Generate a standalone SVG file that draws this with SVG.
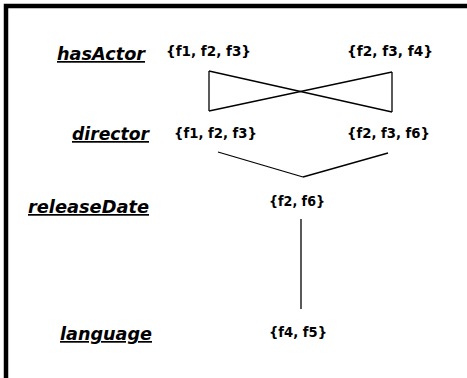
<svg xmlns="http://www.w3.org/2000/svg" width="467" height="378" viewBox="0 0 467 378">
  <style>
    .lvl { font-family: "DejaVu Sans", sans-serif; font-weight: bold; font-style: italic; font-size: 17px; fill: #000; text-decoration: underline; }
    .set { font-family: "DejaVu Sans", sans-serif; font-weight: bold; font-size: 14px; fill: #000; }
    .edge { stroke: #000; stroke-width: 1.3; fill: none; }
  </style>
  <rect width="467" height="378" fill="#fff"/>
  <!-- frame: heavy top and left edge -->
  <polyline points="6,378 6,6 467,6" fill="none" stroke="#000" stroke-width="4.5"/>

  <!-- level labels -->
  <g id="level-hasActor"><text class="lvl" x="57" y="60" textLength="88" lengthAdjust="spacingAndGlyphs">hasActor</text></g>
  <g id="level-director"><text class="lvl" x="72" y="140" textLength="77" lengthAdjust="spacingAndGlyphs">director</text></g>
  <g id="level-releaseDate"><text class="lvl" x="28" y="213" textLength="121" lengthAdjust="spacingAndGlyphs">releaseDate</text></g>
  <g id="level-language"><text class="lvl" x="60" y="340" textLength="92" lengthAdjust="spacingAndGlyphs">language</text></g>

  <!-- feature sets -->
  <g id="ha1"><text class="set" x="166" y="56" textLength="85" lengthAdjust="spacingAndGlyphs">{f1, f2, f3}</text></g>
  <g id="ha2"><text class="set" x="347" y="56" textLength="86" lengthAdjust="spacingAndGlyphs">{f2, f3, f4}</text></g>
  <g id="d1"><text class="set" x="174" y="138" textLength="83" lengthAdjust="spacingAndGlyphs">{f1, f2, f3}</text></g>
  <g id="d2"><text class="set" x="347" y="138" textLength="83" lengthAdjust="spacingAndGlyphs">{f2, f3, f6}</text></g>
  <g id="rd"><text class="set" x="269" y="206" textLength="56" lengthAdjust="spacingAndGlyphs">{f2, f6}</text></g>
  <g id="lang"><text class="set" x="269" y="337" textLength="58" lengthAdjust="spacingAndGlyphs">{f4, f5}</text></g>

  <!-- connectors -->
  <g id="connectors">
    <line class="edge" x1="209" y1="71" x2="209" y2="111"/>
    <line class="edge" x1="392" y1="72" x2="392" y2="112"/>
    <line class="edge" x1="209" y1="71" x2="392" y2="112"/>
    <line class="edge" x1="209" y1="111" x2="392" y2="72"/>
    <line class="edge" x1="218" y1="152" x2="303" y2="177"/>
    <line class="edge" x1="303" y1="177" x2="388" y2="153"/>
    <line class="edge" x1="301" y1="219" x2="301" y2="309"/>
  </g>
</svg>
